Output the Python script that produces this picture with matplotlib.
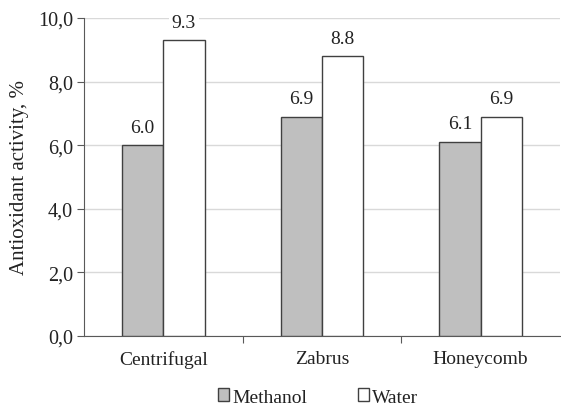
import matplotlib
matplotlib.use("Agg")
import matplotlib.pyplot as plt
import numpy as np
from matplotlib.patches import Patch

categories = ["Centrifugal", "Zabrus", "Honeycomb"]
methanol = [6.0, 6.9, 6.1]
water = [9.3, 8.8, 6.9]
yticks = [0, 2, 4, 6, 8, 10]
ytick_labels = ["0,0", "2,0", "4,0", "6,0", "8,0", "10,0"]

plt.rcParams["font.family"] = ["Liberation Serif", "DejaVu Serif"]
plt.rcParams["font.size"] = 14

fig = plt.figure(figsize=(5.61, 4.10), dpi=100)
ax = fig.add_axes([84 / 561, 1 - 337 / 410, (560 - 84) / 561, (337 - 19) / 410])

x = np.arange(len(categories))
w = 0.26
edge = "#404040"
txt = "#222222"
b1 = ax.bar(x - w / 2, methanol, w, color="#bfbfbf", edgecolor=edge, linewidth=1.0, zorder=3)
b2 = ax.bar(x + w / 2, water, w, color="white", edgecolor=edge, linewidth=1.0, zorder=3)

for bars, vals in ((b1, methanol), (b2, water)):
    for r, v in zip(bars, vals):
        ax.text(r.get_x() + r.get_width() / 2, v + 0.3, f"{v:.1f}", ha="center", va="bottom",
                fontsize=14, color=txt, zorder=4,
                bbox=dict(boxstyle="square,pad=0.15", fc="white", ec="none"))

ax.set_xlim(-0.5, 2.5)
ax.set_ylim(0, 10)
ax.set_yticks(yticks)
ax.set_yticklabels(ytick_labels)
ax.yaxis.grid(True, color="#d9d9d9", linewidth=1.0, zorder=0)
ax.set_axisbelow(True)

ax.set_xticks([0.5, 1.5])
ax.set_xticklabels([])
ax.tick_params(axis="x", length=5, color="#595959", direction="out")
for xi, c in zip(x, categories):
    ax.text(xi, -0.72, c, ha="center", va="center", fontsize=14, color=txt)
ax.tick_params(axis="y", length=5, color="#595959", labelsize=14.5, labelcolor=txt, pad=3)

for s in ("top", "right"):
    ax.spines[s].set_visible(False)
ax.spines["left"].set_color("#595959")
ax.spines["bottom"].set_color("#595959")

ax.set_ylabel("Antioxidant activity, %", fontsize=15, color=txt, labelpad=6)

handles = [Patch(facecolor="#bfbfbf", edgecolor=edge, label="Methanol"),
           Patch(facecolor="white", edgecolor=edge, label="Water")]
leg = fig.legend(handles=handles, loc="center", bbox_to_anchor=(318 / 561, 1 - 398 / 410), ncol=2,
                 frameon=False, prop={"family": "Liberation Serif", "size": 14},
                 handlelength=0.6, handleheight=0.6, handletextpad=0.15, columnspacing=2.6,
                 borderpad=0.1)
for t in leg.get_texts():
    t.set_color(txt)

fig.savefig("out.png", dpi=100)
